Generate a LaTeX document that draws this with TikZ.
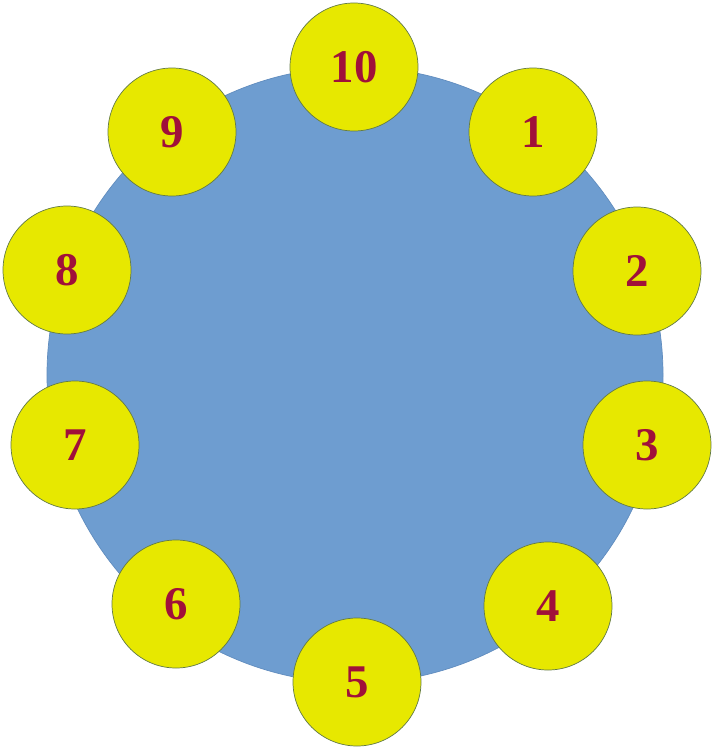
\documentclass[tikz,border=0pt]{standalone}
\usepackage{fontspec}
\setmainfont{Liberation Serif}
\usepackage{tikz}
\usetikzlibrary{positioning}
\definecolor{hubblue}{RGB}{110,157,208}
\definecolor{hubedge}{RGB}{96,140,190}
\definecolor{seatfill}{RGB}{231,232,0}
\definecolor{seatedge}{RGB}{98,122,70}
\definecolor{seatink}{RGB}{160,16,58}
\tikzset{
  every picture/.style={line width=0.6pt},
  hub/.style={circle, draw=hubedge, fill=hubblue, inner sep=0pt, minimum size=184.8mm},
  seat/.style={circle, draw=seatedge, fill=seatfill, inner sep=0pt, minimum size=38.4mm,
    text=seatink, font=\fontsize{40}{40}\selectfont\bfseries},
}

\begin{document}
\begin{tikzpicture}[x=0.3mm, y=-0.3mm]
  % one big table, ten seats round it (numbered clockwise from the top right)
  \useasboundingbox (0,0) rectangle (711,749);
  \node[hub] (table) at (355,375) {};
  \node[seat] (s10) at (354,67) {10};
  \node[seat] (s1) at (533,132) {1};
  \node[seat] (s2) at (637,271) {2};
  \node[seat] (s3) at (647,445) {3};
  \node[seat] (s4) at (548,606) {4};
  \node[seat] (s5) at (357,682) {5};
  \node[seat] (s6) at (176,604) {6};
  \node[seat] (s7) at (75,445) {7};
  \node[seat] (s8) at (67,270) {8};
  \node[seat] (s9) at (172,132) {9};
\end{tikzpicture}
\end{document}
